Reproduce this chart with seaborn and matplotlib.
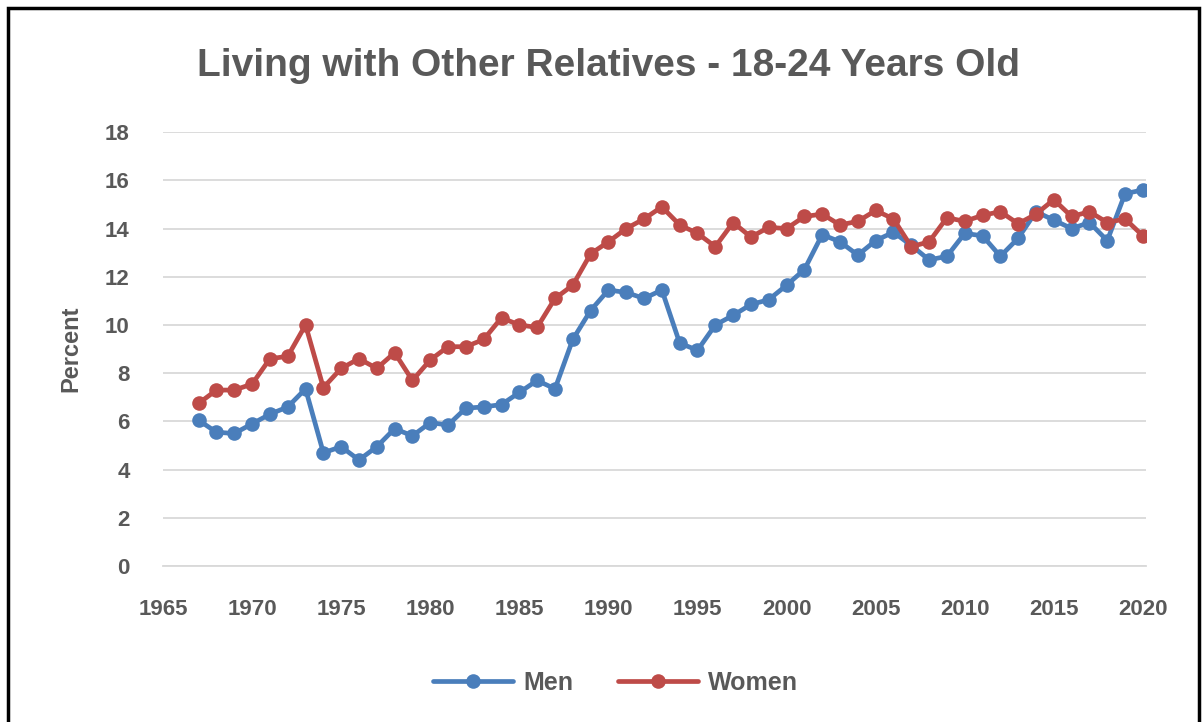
import numpy as np
import matplotlib
matplotlib.use('Agg')
import matplotlib.pyplot as plt
import seaborn as sns
import pandas as pd
from matplotlib.patches import Rectangle

years = list(range(1967, 2021))
men = [6.05, 5.55, 5.5, 5.9, 6.3, 6.6, 7.35, 4.7, 4.95, 4.4,
       4.95, 5.7, 5.4, 5.95, 5.85, 6.55, 6.6, 6.7, 7.2, 7.7,
       7.35, 9.4, 10.6, 11.45, 11.35, 11.1, 11.45, 9.25, 8.95, 10.0,
       10.4, 10.85, 11.05, 11.65, 12.3, 13.75, 13.45, 12.9, 13.5, 13.85,
       13.3, 12.7, 12.85, 13.8, 13.7, 12.85, 13.6, 14.7, 14.35, 14.0,
       14.25, 13.5, 15.45, 15.6]
women = [6.75, 7.3, 7.3, 7.55, 8.6, 8.7, 10.0, 7.4, 8.2, 8.6,
         8.2, 8.85, 7.7, 8.55, 9.1, 9.1, 9.4, 10.3, 10.0, 9.9,
         11.1, 11.65, 12.95, 13.45, 14.0, 14.4, 14.9, 14.15, 13.8, 13.25,
         14.25, 13.65, 14.05, 14.0, 14.5, 14.6, 14.15, 14.3, 14.75, 14.4,
         13.25, 13.45, 14.45, 14.3, 14.55, 14.7, 14.2, 14.6, 15.2, 14.5,
         14.7, 14.25, 14.4, 13.7]

df = pd.DataFrame({'Year': years * 2,
                   'Percent': men + women,
                   'Sex': ['Men'] * len(years) + ['Women'] * len(years)})

sns.set_style('white')
plt.rcParams['font.family'] = ['Liberation Sans', 'DejaVu Sans']

fig = plt.figure(figsize=(12.03, 7.22), dpi=100)
ax = fig.add_axes([0.1355, 0.216, 0.8175, 0.601])

sns.lineplot(data=df, x='Year', y='Percent', hue='Sex', ax=ax,
             palette={'Men': '#4a7ebb', 'Women': '#be4b48'},
             marker='o', markersize=10.5, markeredgewidth=0, linewidth=3.4)

ax.set_xlim(1965, 2020.2)
ax.set_ylim(0, 18)
ax.set_xticks(range(1965, 2021, 5))
ax.set_yticks(range(0, 19, 2))
ax.yaxis.grid(True, color='#d9d9d9', linewidth=1.3)
ax.xaxis.grid(False)
for s in ['top', 'right', 'left']:
    ax.spines[s].set_visible(False)
ax.spines['bottom'].set_color('#d9d9d9')
ax.spines['bottom'].set_linewidth(1.3)
ax.tick_params(axis='both', length=0, labelsize=16, colors='#595959')
ax.tick_params(axis='x', pad=24)
ax.tick_params(axis='y', pad=24)
for lbl in ax.get_xticklabels() + ax.get_yticklabels():
    lbl.set_fontweight('semibold')
ax.set_xlabel('')
ax.set_ylabel('Percent', fontsize=17, fontweight='bold', color='#595959', labelpad=16)

fig.text(0.506, 0.908, 'Living with Other Relatives - 18-24 Years Old',
         ha='center', va='center', fontsize=28, fontweight='bold', color='#595959')

leg = ax.legend(title=None, loc='upper center', bbox_to_anchor=(0.46, -0.19), ncol=2,
                frameon=False, fontsize=18, handlelength=3.2, columnspacing=1.8,
                handletextpad=0.4, labelcolor='#595959')
for t in leg.get_texts():
    t.set_fontweight('semibold')

fig.patches.append(Rectangle((0.007, -0.01), 0.99, 0.999, transform=fig.transFigure,
                             fill=False, edgecolor='black', linewidth=2.5))

plt.savefig('out.png', dpi=100)
